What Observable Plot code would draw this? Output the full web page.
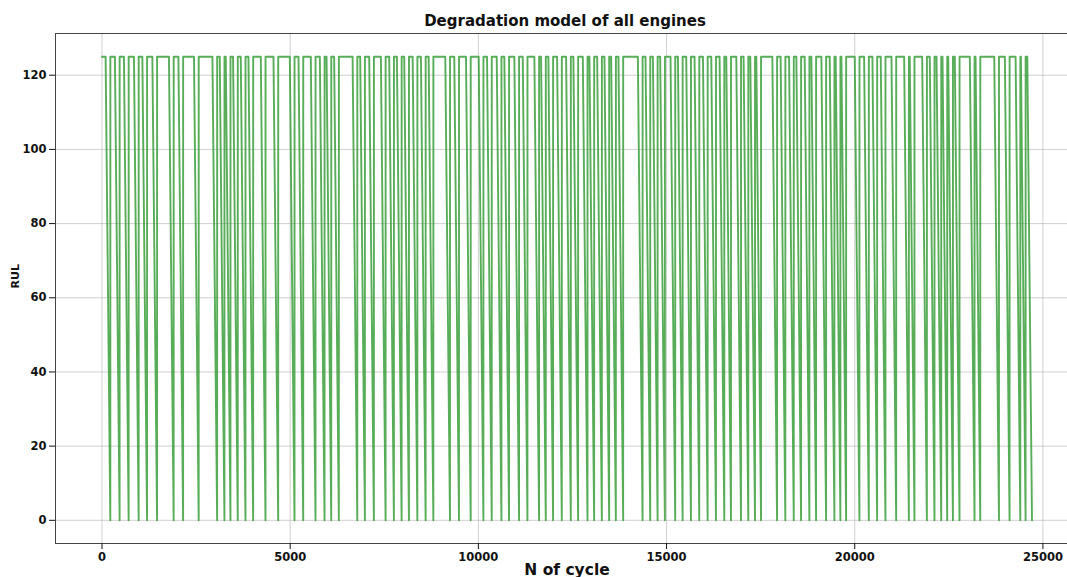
<!DOCTYPE html>
<html>
<head>
<meta charset="utf-8">
<script src="https://cdn.jsdelivr.net/npm/d3@7"></script>
<script src="https://cdn.jsdelivr.net/npm/@observablehq/plot@0.6"></script>
<style>
  html, body { margin: 0; padding: 0; background: #fff; }
  #wrap { position: relative; width: 1067px; height: 577px; font-family: "DejaVu Sans", sans-serif; }
  #title { position: absolute; top: 12px; left: 0; width: 1130px; text-align: center; font-weight: bold; font-size: 15px; color: #111; }
  #chart { position: absolute; top: 0; left: 0; }
</style>
</head>
<body>
<div id="wrap">
  <div id="chart"></div>
  <div id="title">Degradation model of all engines</div>
</div>
<script>
// Lifetime (number of cycles) of each of the 100 engines, in order
const engineLifetimes = [
  221, 247, 240, 266, 223, 266, 441, 251, 414, 490,
  194, 160, 194, 205, 204, 328, 337, 434, 231, 327,
  240, 178, 202, 490, 202, 239, 311, 221, 205, 194,
  224, 220, 205, 442, 239, 311, 338, 221, 258, 202,
  266, 223, 309, 178, 194, 232, 239, 194, 250, 176,
  205, 194, 178, 194, 516, 203, 196, 194, 274, 197,
  221, 221, 223, 221, 221, 178, 266, 194, 178, 160,
  426, 220, 224, 194, 221, 178, 266, 221, 159, 152,
  354, 249, 221, 221, 285, 337, 149, 330, 202, 179,
  159, 152, 175, 399, 152, 497, 282, 285, 141, 170
];
const rulCap = 125;
const xTicks = [0, 5000, 10000, 15000, 20000, 25000];
const yTicks = [0, 20, 40, 60, 80, 100, 120];

// Piecewise-linear RUL: min(cap, life - t) per engine
const pts = [];
let start = 0;
for (const life of engineLifetimes) {
  pts.push({cycle: start + 1, rul: Math.min(rulCap, life - 1)});
  if (life > rulCap) pts.push({cycle: start + life - rulCap, rul: rulCap});
  pts.push({cycle: start + life, rul: 0});
  start += life;
}
const total = start;
const xPad = total * 0.05, yPad = rulCap * 0.05;

const chart = Plot.plot({
  width: 1067,
  height: 577,
  marginTop: 33,
  marginBottom: 34,
  marginLeft: 55,
  marginRight: -11,
  style: {fontFamily: "DejaVu Sans, sans-serif", fontSize: "11px", fontWeight: "bold", color: "#111", overflow: "visible"},
  x: {domain: [-xPad, total + xPad], ticks: xTicks, tickFormat: d => String(d), label: null, tickSize: 4, tickPadding: 3},
  y: {domain: [-yPad, rulCap + yPad], ticks: yTicks, tickFormat: d => String(d), label: null, tickSize: 4, tickPadding: 3},
  marks: [
    Plot.gridX(xTicks, {stroke: "#b0b0b0", strokeOpacity: 0.6, strokeWidth: 1}),
    Plot.gridY(yTicks, {stroke: "#b0b0b0", strokeOpacity: 0.6, strokeWidth: 1}),
    Plot.line(pts, {x: "cycle", y: "rul", stroke: "#2e9a2e", strokeOpacity: 0.8, strokeWidth: 1.9}),
    Plot.frame({stroke: "#444", strokeWidth: 1}),
    Plot.axisX(xTicks, {tickFormat: d => String(d), fontWeight: "bold", fontSize: 11.5}),
    Plot.axisY(yTicks, {tickFormat: d => String(d), fontWeight: "bold", fontSize: 11.5}),
    Plot.text(["N of cycle"], {frameAnchor: "bottom", dy: 31, fontSize: 15.5, fontWeight: "bold"}),
    Plot.text(["RUL"], {frameAnchor: "left", dx: -40, rotate: -90, fontSize: 11, fontWeight: "bold"})
  ]
});
document.getElementById("chart").appendChild(chart);
</script>
</body>
</html>
